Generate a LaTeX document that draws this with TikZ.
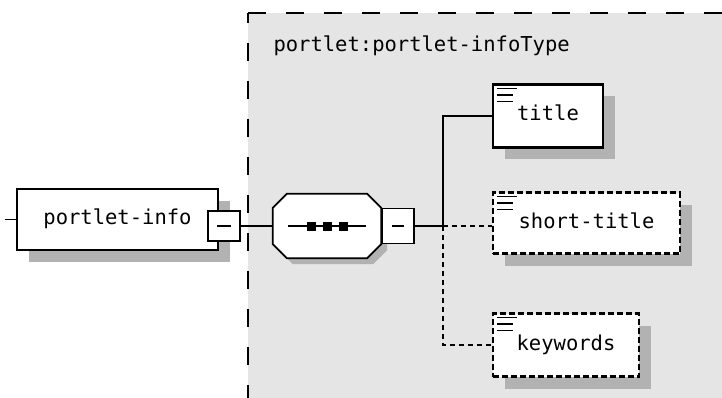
\documentclass[tikz,border=0pt]{standalone}
\usepackage{fontspec}
\setmonofont{DejaVu Sans Mono}
\usetikzlibrary{shadows}
\definecolor{typebg}{gray}{0.9}
\definecolor{shade}{gray}{0.7}

\begin{document}
\begin{tikzpicture}[x=1pt, y=-1pt, font=\ttfamily\fontsize{20.5}{24}\selectfont,
  elem/.style={draw, fill=white, line width=2.2pt, inner sep=0pt, text height=14pt, text depth=4pt,
    drop shadow={shadow xshift=12pt, shadow yshift=-12pt, fill=shade, opacity=1}},
  optelem/.style={elem, dash pattern=on 6pt off 3pt},
  minus/.style={draw, fill=white, line width=1.5pt, inner sep=0pt},
  wire/.style={line width=1.5pt},
  optwire/.style={wire, dash pattern=on 5pt off 4pt}]
\useasboundingbox (0,0) rectangle (722,398);

% complex type area
\fill[typebg] (248,13) rectangle (722,398);
\draw[line width=1.6pt, dash pattern=on 18pt off 20pt] (248,13) -- (722,13);
\draw[line width=1.6pt, dash pattern=on 18pt off 20pt, dash phase=8pt] (248,13) -- (248,398);
\node[anchor=base west] (typename) at (270,52) {portlet:portlet-infoType};

% root element
\coordinate (in) at (5,219.5);
\node[elem, minimum width=201pt, minimum height=61pt] (info) at (117.5,219.5) {portlet-info};
\node[minus, minimum width=32pt, minimum height=30pt] (infominus) at (224,226) {};
\draw[wire] ([xshift=-7pt]infominus.center) -- ([xshift=7pt]infominus.center);
\draw[wire] (in) -- (info.west);

% sequence
\node[minimum width=108pt, minimum height=64pt, inner sep=0pt] (seq) at (327,226) {};
\draw[line width=1.7pt, fill=white, drop shadow={shadow xshift=6pt, shadow yshift=-6pt, fill=shade, opacity=1}]
  ([xshift=14pt]seq.north west) -- ([xshift=-14pt]seq.north east) -- ([yshift=-14pt]seq.north east)
  -- ([yshift=14pt]seq.south east) -- ([xshift=-14pt]seq.south east) -- ([xshift=14pt]seq.south west)
  -- ([yshift=14pt]seq.south west) -- ([yshift=-14pt]seq.north west) -- cycle;
\draw[wire] ([xshift=15pt]seq.west) -- ([xshift=-15pt]seq.east);
\foreach \dx in {-16,0,16}
  \fill ([xshift=\dx pt]seq.center) +(-4.5,-4.5) rectangle +(4.5,4.5);
\node[minus, minimum width=32pt, minimum height=35pt, anchor=west] (seqminus) at (seq.east) {};
\draw[wire] ([xshift=-6pt]seqminus.center) -- ([xshift=6pt]seqminus.center);
\draw[wire] (infominus.east) -- (seq.west);
\coordinate (branch) at (443,226);
\draw[wire] (seqminus.east) -- (branch);

% child elements
\node[elem, minimum width=110pt, minimum height=63pt] (title) at (548,116) {title};
\node[optelem, minimum width=187pt, minimum height=61pt] (shorttitle) at (586.5,223) {short-title};
\node[optelem, minimum width=146pt, minimum height=63pt] (keywords) at (566,345) {keywords};
\foreach \el in {title,shorttitle,keywords} {
  \draw[line width=1.3pt] ([shift={(5,5)}]\el.north west) -- ++(20,0);
  \draw[line width=1.3pt] ([shift={(5,11.5)}]\el.north west) -- ++(16,0);
  \draw[line width=1.3pt] ([shift={(5,18)}]\el.north west) -- ++(16,0);
}
\draw[wire] (branch) |- (title.west);
\draw[optwire] (branch) -- (branch -| shorttitle.west);
\draw[optwire] (branch) |- (keywords.west);
\end{tikzpicture}
\end{document}
